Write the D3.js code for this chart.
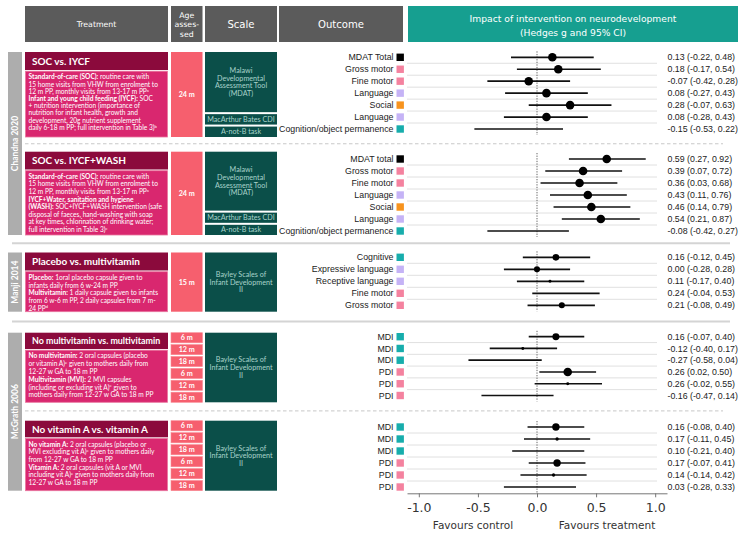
<!DOCTYPE html>
<html><head><meta charset="utf-8">
<script src="https://cdn.jsdelivr.net/npm/d3@7"></script>
<style>body{margin:0;background:#fff}svg{display:block}</style>
</head><body><svg id="c" width="743" height="536"></svg>
<script>
// ---------------- DATA ----------------
const studies = ["Chandna 2020", "Manji 2014", "McGrath 2006"];
const comparisons = ["SOC vs. IYCF", "SOC vs. IYCF+WASH", "Placebo vs. multivitamin",
  "No multivitamin vs. multivitamin", "No vitamin A vs. vitamin A"];
const comparisonStudy = [0, 0, 1, 2, 2];
const descriptions = [
  ["**Standard-of-care (SOC):** routine care with", "15 home visits from VHW from enrolment to",
   "12 m PP, monthly visits from 13-17 m PP^a", "**Infant and young child feeding (IYCF):** SOC",
   "+ nutrition intervention (importance of", "nutrition for infant health, growth and",
   "development, 20g nutrient supplement", "daily 6-18 m PP; full intervention in Table 3)^b"],
  ["**Standard-of-care (SOC):** routine care with", "15 home visits from VHW from enrolment to",
   "12 m PP, monthly visits from 13-17 m PP^a", "**IYCF+Water, sanitation and hygiene**",
   "**(WASH):** SOC+IYCF+WASH intervention (safe", "disposal of faeces, hand-washing with soap",
   "at key times, chlorination of drinking water;", "full intervention in Table 3)^c"],
  ["**Placebo:** 1oral placebo capsule given to", "infants daily from 6 w-24 m PP",
   "**Multivitamin:** 1 daily capsule given to infants", "from 6 w-6 m PP, 2 daily capsules from 7 m-",
   "24 PP^d"],
  ["**No multivitamin:** 2 oral capsules (placebo", "or vitamin A)^e given to mothers daily from",
   "12-27 w GA to 18 m PP", "**Multivitamin (MVI):** 2 MVI capsules",
   "(including or excluding vit A)^e given to", "mothers daily from 12-27 w GA to 18 m PP"],
  ["**No vitamin A:** 2 oral capsules (placebo  or", "MVI excluding vit A)^e given to mothers daily",
   "from 12-27 w GA to 18 m PP", "**Vitamin A:** 2 oral capsules (vit A or MVI",
   "including vit A)^e given to mothers daily from", "12-27 w GA to 18 m PP"]
];
const agesAssessed = [["24 m"], ["24 m"], ["15 m"],
  ["6 m", "12 m", "18 m", "6 m", "12 m", "18 m"],
  ["6 m", "12 m", "18 m", "6 m", "12 m", "18 m"]];
const scaleNames = [
  [["Malawi", "Developmental", "Assessment Tool", "(MDAT)"], ["MacArthur Bates CDI"], ["A-not-B task"]],
  [["Malawi", "Developmental", "Assessment Tool", "(MDAT)"], ["MacArthur Bates CDI"], ["A-not-B task"]],
  [["Bayley Scales of", "Infant Development", "II"]],
  [["Bayley Scales of", "Infant Development", "II"]],
  [["Bayley Scales of", "Infant Development", "II"]]
];
const scaleRowCounts = [[5, 1, 1], [5, 1, 1], [5], [6], [6]];

const outcomeComparison = [0,0,0,0,0,0,0, 1,1,1,1,1,1,1, 2,2,2,2,2, 3,3,3,3,3,3, 4,4,4,4,4,4];
const outcomeLabels = ["MDAT Total", "Gross motor", "Fine motor", "Language", "Social", "Language", "Cognition/object permanence",
  "MDAT total", "Gross motor", "Fine motor", "Language", "Social", "Language", "Cognition/object permanence",
  "Cognitive", "Expressive language", "Receptive language", "Fine motor", "Gross motor",
  "MDI", "MDI", "MDI", "PDI", "PDI", "PDI",
  "MDI", "MDI", "MDI", "PDI", "PDI", "PDI"];
const outcomeDomain = ["Total", "Motor", "Motor", "Language", "Social", "Language", "Cognition",
  "Total", "Motor", "Motor", "Language", "Social", "Language", "Cognition",
  "Cognition", "Language", "Language", "Motor", "Motor",
  "Cognition", "Cognition", "Cognition", "Motor", "Motor", "Motor",
  "Cognition", "Cognition", "Cognition", "Motor", "Motor", "Motor"];
const hedgesG = [0.13, 0.18, -0.07, 0.08, 0.28, 0.08, -0.15,
  0.59, 0.39, 0.36, 0.43, 0.46, 0.54, -0.08,
  0.16, 0.00, 0.11, 0.24, 0.21,
  0.16, -0.12, -0.27, 0.26, 0.26, -0.16,
  0.16, 0.17, 0.10, 0.17, 0.14, 0.03];
const ciLower = [-0.22, -0.17, -0.42, -0.27, -0.07, -0.28, -0.53,
  0.27, 0.07, 0.03, 0.11, 0.14, 0.21, -0.42,
  -0.12, -0.28, -0.17, -0.04, -0.08,
  -0.07, -0.40, -0.58, 0.02, -0.02, -0.47,
  -0.08, -0.11, -0.21, -0.07, -0.14, -0.28];
const ciUpper = [0.48, 0.54, 0.28, 0.43, 0.63, 0.43, 0.22,
  0.92, 0.72, 0.68, 0.76, 0.79, 0.87, 0.27,
  0.45, 0.28, 0.40, 0.53, 0.49,
  0.40, 0.17, 0.04, 0.50, 0.55, 0.14,
  0.40, 0.45, 0.40, 0.41, 0.42, 0.33];
const markerWeight = [1, 1, 1, 1, 1, 1, 0,
  1, 1, 1, 1, 1, 1, 0,
  0.6, 0.5, 0.12, 0, 0.5,
  0.66, 0.12, 0, 1, 0.12, 0,
  0.74, 0.15, 0, 0.74, 0.15, 0];
const domainNames = ["Total", "Motor", "Language", "Social", "Cognition"];
const xTicks = [-1, -0.5, 0, 0.5, 1];
const axisNotes = ["Favours control", "Favours treatment"];
const headerLabels = ["Treatment", ["Age", "asses-", "sed"], "Scale", "Outcome"];
const plotTitle = ["Impact of intervention on neurodevelopment", "(Hedges g and 95% CI)"];

// ---------------- LAYOUT / STYLE ----------------
const blocks = [
  {top: 52, titleBottom: 70, bottom: 137, rowFirst: 57.3, rowLast: 129, lh: 7.2},
  {top: 151.7, titleBottom: 169.5, bottom: 235, rowFirst: 159, rowLast: 231, lh: 7.6},
  {top: 252.5, titleBottom: 270.5, bottom: 311.7, rowFirst: 257.3, rowLast: 305.3, lh: 7.7},
  {top: 332.7, titleBottom: 349, bottom: 402.3, rowFirst: 336.7, rowLast: 395.5, lh: 7.8},
  {top: 420.7, titleBottom: 437.3, bottom: 490.7, rowFirst: 427, rowLast: 487, lh: 7.7}
];
const COL = {header: "#5b5b5b", teal: "#169f90", side: "#adadad", title: "#8b0a3c",
  desc: "#d9276f", age: "#f65f6e", scale: "#0b4f49", scaleText: "#a9d3cb", sep: "#d4d4d4"};
const LATO = "Lato, 'DejaVu Sans', sans-serif";
const DEJ = "'DejaVu Sans', sans-serif";
const ARIAL = "'Liberation Sans', Arial, sans-serif";

const svg = d3.select("#c");
const x = d3.scaleLinear().domain([-1.1, 1.1]).range([407, 667]);
const color = d3.scaleOrdinal().domain(domainNames)
  .range(["#000000", "#f4829f", "#c5b3f6", "#f7931e", "#17adac"]);
const rScale = d3.scaleSqrt().domain([0, 1]).range([0, 4.3]);

// ---------------- HEADER ----------------
const hdr = [[25, 168], [171, 202.5], [205, 277], [279, 403]];
hdr.forEach((h, i) => {
  svg.append("rect").attr("x", h[0]).attr("y", 6).attr("width", h[1] - h[0]).attr("height", 36).attr("fill", COL.header);
  const lab = headerLabels[i];
  const cx = (h[0] + h[1]) / 2;
  if (Array.isArray(lab)) {
    lab.forEach((t, j) => svg.append("text").attr("x", cx).attr("y", 17.5 + j * 9.6)
      .attr("text-anchor", "middle").attr("fill", "#fff").attr("font-family", DEJ).attr("font-size", 7.8).text(t));
  } else {
    svg.append("text").attr("x", cx).attr("y", i === 0 ? 27 : 28)
      .attr("text-anchor", "middle").attr("fill", "#fff").attr("font-family", DEJ)
      .attr("font-size", i === 0 ? 7.8 : 10.1).text(lab);
  }
});
svg.append("rect").attr("x", 408).attr("y", 6).attr("width", 330).attr("height", 36).attr("fill", COL.teal);
plotTitle.forEach((t, j) => svg.append("text").attr("x", 573).attr("y", 21.5 + j * 14)
  .attr("text-anchor", "middle").attr("fill", "#fff").attr("font-family", DEJ).attr("font-size", 9.2).text(t));

// ---------------- SIDEBARS ----------------
studies.forEach((s, si) => {
  const idx = comparisonStudy.map((v, i) => v === si ? i : -1).filter(i => i >= 0);
  const y0 = blocks[idx[0]].top, y1 = blocks[idx[idx.length - 1]].bottom;
  svg.append("rect").attr("x", 8).attr("y", y0).attr("width", 14).attr("height", y1 - y0).attr("fill", COL.side);
  svg.append("text").attr("transform", `translate(18.2,${(y0 + y1) / 2}) rotate(-90)`)
    .attr("text-anchor", "middle").attr("fill", "#fff").attr("font-family", LATO)
    .attr("font-weight", 700).attr("font-size", 8.5).text(s);
});

// ---------------- SEPARATORS ----------------
for (let i = 1; i < blocks.length; i++) {
  const y = (blocks[i - 1].bottom + blocks[i].top) / 2 - 0.6;
  const same = comparisonStudy[i] === comparisonStudy[i - 1];
  svg.append("line").attr("x1", same ? 25 : 12).attr("x2", same ? 723 : 730).attr("y1", y).attr("y2", y)
    .attr("stroke", same ? "#c8c8c8" : COL.sep).attr("stroke-width", same ? 1 : 2)
    .attr("stroke-dasharray", same ? "3.5,2.5" : null);
}

function rich(textSel, str, fs) {
  let raised = false;
  str.split(/(\*\*[^*]+\*\*|\^[a-z])/).filter(s => s).forEach(part => {
    let t;
    if (part.startsWith("**")) t = textSel.append("tspan").attr("font-weight", 700).text(part.slice(2, -2));
    else if (part.startsWith("^")) t = textSel.append("tspan").attr("font-size", fs * 0.62).text(part.slice(1));
    else t = textSel.append("tspan").text(part);
    if (part.startsWith("^")) { t.attr("dy", -2.2); raised = true; }
    else if (raised) { t.attr("dy", 2.2); raised = false; }
  });
}

// ---------------- LEFT PANELS ----------------
comparisons.forEach((c, bi) => {
  const b = blocks[bi];
  svg.append("rect").attr("x", 25).attr("y", b.top).attr("width", 143).attr("height", b.titleBottom - b.top).attr("fill", COL.title);
  svg.append("text").attr("x", 32).attr("y", (b.top + b.titleBottom) / 2 + 3.5)
    .attr("fill", "#fff").attr("font-family", LATO).attr("font-weight", 700)
    .attr("font-size", bi === 3 ? 8.9 : 10).text(c);
  const dTop = b.titleBottom + 1.2;
  svg.append("rect").attr("x", 25.5).attr("y", dTop).attr("width", 142).attr("height", b.bottom - dTop)
    .attr("fill", COL.desc).attr("stroke", "#e9779f").attr("stroke-width", 0.8);
  descriptions[bi].forEach((line, li) => {
    const t = svg.append("text").attr("x", 28.5).attr("y", dTop + 8.1 + li * b.lh)
      .attr("fill", "#fff").attr("font-family", LATO).attr("font-size", 6.6);
    rich(t, line, 6.6);
  });
  const ages = agesAssessed[bi];
  const band = d3.scaleBand().domain(d3.range(ages.length)).range([b.top, b.bottom]).paddingInner(ages.length > 1 ? 0.15 : 0);
  ages.forEach((a, ai) => {
    svg.append("rect").attr("x", 171).attr("y", band(ai)).attr("width", 31.5).attr("height", band.bandwidth())
      .attr("fill", COL.age).attr("stroke", ages.length > 1 ? "#f88a94" : "none").attr("stroke-width", 0.6);
    svg.append("text").attr("x", 186.7).attr("y", band(ai) + band.bandwidth() / 2 + 2.6)
      .attr("text-anchor", "middle").attr("fill", "#fff").attr("font-family", LATO)
      .attr("font-weight", 700).attr("font-size", 7.2).text(a);
  });
  const counts = scaleRowCounts[bi];
  const total = d3.sum(counts);
  const unit = (b.bottom - b.top + 2) / total;
  let acc = 0;
  scaleNames[bi].forEach((lines, si) => {
    const y0 = b.top + acc * unit;
    const y1 = b.top + (acc + counts[si]) * unit - 2;
    acc += counts[si];
    svg.append("rect").attr("x", 205).attr("y", y0).attr("width", 72).attr("height", y1 - y0).attr("fill", COL.scale);
    const lh = 7.7, cy = (y0 + y1) / 2;
    lines.forEach((t, li) => svg.append("text").attr("x", 241)
      .attr("y", cy - (lines.length - 1) * lh / 2 + li * lh + 2.5)
      .attr("text-anchor", "middle").attr("fill", COL.scaleText).attr("font-family", LATO)
      .attr("font-size", 7.2).text(t));
  });
});

// ---------------- FOREST PLOT ----------------
const rows = hedgesG.map((g, i) => ({i, g, lo: ciLower[i], hi: ciUpper[i], w: markerWeight[i],
  label: outcomeLabels[i], dom: outcomeDomain[i], c: outcomeComparison[i]}));
const yPos = blocks.map((b, bi) => {
  const ids = rows.filter(r => r.c === bi).map(r => r.i);
  return d3.scalePoint().domain(ids).range([b.rowFirst, b.rowLast]);
});
rows.forEach(r => r.y = yPos[r.c](r.i));

blocks.forEach((b, bi) => {
  const rs = rows.filter(r => r.c === bi);
  for (let k = 0; k < rs.length - 1; k++) {
    const y = (rs[k].y + rs[k + 1].y) / 2;
    svg.append("line").attr("x1", 407).attr("x2", 657).attr("y1", y).attr("y2", y)
      .attr("stroke", "#dcdcdc").attr("stroke-width", 0.9);
  }
  const step = yPos[bi].step();
  svg.append("line").attr("x1", x(0)).attr("x2", x(0))
    .attr("y1", b.rowFirst - step / 2).attr("y2", b.rowLast + step / 2)
    .attr("stroke", "#555").attr("stroke-width", 0.9).attr("stroke-dasharray", "1.3,1.3");
});

const g = svg.append("g");
g.selectAll("line.ci").data(rows).join("line").attr("class", "ci")
  .attr("x1", d => x(d.lo)).attr("x2", d => x(d.hi)).attr("y1", d => d.y).attr("y2", d => d.y)
  .attr("stroke", "#111").attr("stroke-width", 1.7);
g.selectAll("circle").data(rows.filter(d => d.w > 0)).join("circle")
  .attr("cx", d => x(d.g)).attr("cy", d => d.y).attr("r", d => rScale(d.w)).attr("fill", "#000");
g.selectAll("text.lab").data(rows).join("text").attr("class", "lab")
  .attr("x", 393.5).attr("y", d => d.y + 3.1).attr("text-anchor", "end")
  .attr("font-family", ARIAL).attr("font-size", 8.8).attr("fill", "#222").text(d => d.label);
g.selectAll("rect.sq").data(rows).join("rect").attr("class", "sq")
  .attr("x", 396.5).attr("y", d => d.y - 3.7).attr("width", 7.4).attr("height", 7.4)
  .attr("fill", d => color(d.dom));
const f2 = d3.format(".2f");
g.selectAll("text.ci").data(rows).join("text").attr("class", "ci")
  .attr("x", 667.5).attr("y", d => d.y + 3.1)
  .attr("font-family", ARIAL).attr("font-size", 8.8).attr("fill", "#222")
  .text(d => `${f2(d.g)} (${f2(d.lo)}, ${f2(d.hi)})`.replace(/\u2212/g, "-"));

const axisY = blocks[blocks.length - 1].rowLast + yPos[4].step() / 2 + 0.3;
const ax = svg.append("g").attr("transform", `translate(0,${axisY})`)
  .call(d3.axisBottom(x).tickValues(xTicks).tickFormat(d => d.toFixed(1)).tickSize(4).tickSizeOuter(0));
ax.select(".domain").attr("stroke", "#777");
ax.selectAll(".tick line").attr("stroke", "#777");
ax.selectAll(".tick text").attr("font-family", DEJ).attr("font-size", 12.5).attr("fill", "#333").attr("dy", "0.95em");
svg.append("text").attr("x", 473).attr("y", 529).attr("text-anchor", "middle")
  .attr("font-family", DEJ).attr("font-size", 10.5).attr("fill", "#333").text(axisNotes[0]);
svg.append("text").attr("x", 607).attr("y", 529).attr("text-anchor", "middle")
  .attr("font-family", DEJ).attr("font-size", 10.5).attr("fill", "#333").text(axisNotes[1]);
</script></body></html>
